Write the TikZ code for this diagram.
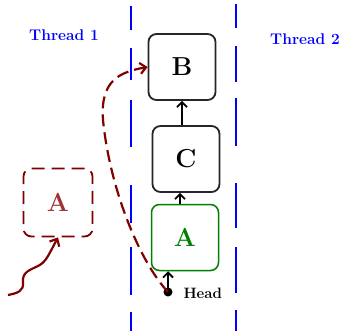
\documentclass[tikz,border=0pt]{standalone}
\usetikzlibrary{arrows.meta}
\definecolor{dred}{RGB}{128,0,0}
\definecolor{lred}{RGB}{160,50,50}
\definecolor{dgreen}{RGB}{0,128,0}
\begin{document}
\begin{tikzpicture}[x=1pt,y=-1pt,
  listbox/.style={draw=black!85,line width=1.8pt,rounded corners=8pt,minimum width=67pt,minimum height=66pt,inner sep=0pt,font=\fontsize{26}{30}\selectfont\bfseries},
  thr/.style={text=blue,font=\fontsize{15.5}{18}\selectfont\bfseries},
  link/.style={line width=1.8pt,-{Straight Barb[length=5pt,width=10pt]}},
  vline/.style={blue,line width=2pt},
  redarr/.style={dred,line width=2.2pt,-{Straight Barb[length=6pt,width=11pt]}}]
\useasboundingbox (0,0) rectangle (342,331);
% blue dashed separators
\foreach \a/\b in {6/30,48/80,100/147,185/223,247/295,312/331}
  \draw[vline] (131,\a) -- (131,\b);
\foreach \a/\b in {4/28,46/82,98/146,183/228,247/293,310/331}
  \draw[vline] (236,\a) -- (236,\b);
\node[thr] (t1) at (64,35) {Thread 1};
\node[thr] (t2) at (305,39) {Thread 2};
% boxes
\node[listbox] (B) at (182,67) {B};
\node[listbox] (C) at (186,159) {C};
\node[listbox,draw=dgreen,text=dgreen,line width=1.5pt] (A) at (185,237.5) {A};
\node[listbox,draw=dred,text=lred,dash pattern=on 13pt off 7pt,line width=1.8pt,minimum width=69pt,minimum height=68pt] (A2) at (58,202.5) {A};
% head
\fill (168,292) circle (4.5pt) coordinate (hd);
\node[font=\fontsize{15}{17}\selectfont\bfseries,anchor=west] (hl) at (180,293) {Head};
\draw[link] (hd) -- (A.south -| hd);
\draw[link] ([xshift=-5pt]A.north) -- ([xshift=-5pt]A.north |- C.south);
\draw[link] ([xshift=-4pt]C.north) -- ([xshift=-4pt]C.north |- B.south);
% red curves
\coordinate (s) at (8,295);
\draw[redarr] (s) .. controls (18,293) and (24,291) .. (23,282)
  .. controls (22,272) and (30,270) .. (38,266)
  .. controls (46,262) and (48,256) .. (A2.south);
\draw[redarr,dash pattern=on 12pt off 6pt] (hd) .. controls (140,262) and (110,190) .. (103,120)
  .. controls (100,80) and (120,72) .. (B.west);
\end{tikzpicture}
\end{document}
